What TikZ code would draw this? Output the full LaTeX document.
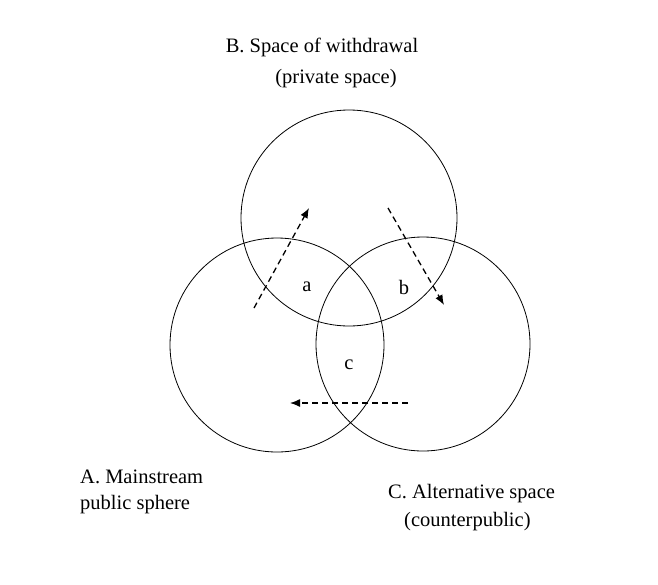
\documentclass[tikz,border=0pt]{standalone}
\usepackage{fontspec}
\setmainfont{Liberation Serif}
\usetikzlibrary{arrows.meta}
\tikzstyle{sphere} = [draw=black, line width=0.8pt]
\tikzstyle{label} = [font=\fontsize{20.5}{23}\selectfont, inner sep=0pt]
\tikzstyle{flow} = [line width=1.3pt, dash pattern=on 6pt off 4pt, -{Latex[length=10pt,width=8pt]}]
\begin{document}
\begin{tikzpicture}[x=1pt, y=-1pt]
  \useasboundingbox (0,0) rectangle (658,584);
  % the three spaces
  \draw[sphere] (349,218) circle (108);
  \draw[sphere] (277,345) circle (107);
  \draw[sphere] (423,344) circle (107);

  \node[label] (titleB) at (322,47) {B. Space of withdrawal};
  \node[label] (subB) at (336,79) {(private space)};
  \node[label, anchor=west] (titleA) at (80,477) {A. Mainstream};
  \node[label, anchor=west] (subA) at (80,505) {public sphere};
  \node[label, anchor=west] (titleC) at (388,494) {C. Alternative space};
  \node[label, anchor=west] (subC) at (404,522) {(counterpublic)};

  \node[label] (a) at (307,287) {a};
  \node[label] (b) at (404,287) {b};
  \node[label] (c) at (349,365) {c};

  \coordinate (a0) at (254,308); \coordinate (a1) at (309,208);
  \coordinate (b0) at (388,208); \coordinate (b1) at (444,305);
  \coordinate (c0) at (408,403); \coordinate (c1) at (290,403);
  \draw[flow] (a0) -- (a1);
  \draw[flow] (b0) -- (b1);
  \draw[flow] (c0) -- (c1);
\end{tikzpicture}
\end{document}
